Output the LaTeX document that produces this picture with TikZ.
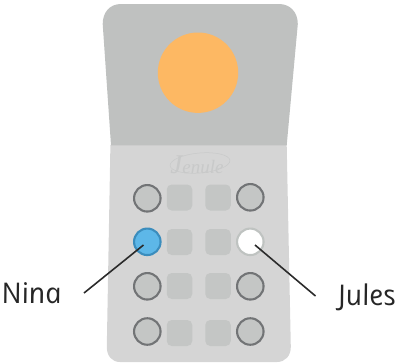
\documentclass[tikz,border=0pt]{standalone}
\usepackage{fontspec}
\setmainfont{Open Sans}[ItalicFeatures={FakeSlant=-0.2}]
\newfontfamily\logofont{Liberation Serif}
\definecolor{upperc}{HTML}{BFC1C0}
\definecolor{lowerc}{HTML}{D5D5D5}
\definecolor{padc}{HTML}{C4C6C5}
\definecolor{logoc}{HTML}{C8C9C9}
\definecolor{ringc}{HTML}{727476}
\definecolor{sunc}{HTML}{FDB863}
\definecolor{bluec}{HTML}{5DB7E8}
\definecolor{bluering}{HTML}{3B8DBD}
\definecolor{whitering}{HTML}{BFC3C1}
\definecolor{linec}{HTML}{2B2B2B}
\tikzset{
  btn/.style={circle,draw=ringc,line width=2.1pt,fill=padc,minimum size=26.5pt,inner sep=0pt},
  pad/.style={rounded corners=5pt,fill=padc,draw=none,minimum width=25.5pt,minimum height=26pt,inner sep=0pt},
  lead/.style={draw=linec,line width=1.6pt},
  lab/.style={font=\itshape\fontsize{28.5}{31}\selectfont,text=black!85,inner sep=0pt,anchor=base west}
}
\begin{document}
\begin{tikzpicture}[x=1pt,y=-1pt]
\useasboundingbox (0,0) rectangle (401,362);
% lower body
\fill[lowerc] (110.4,145) -- (106.8,347) .. controls (106.8,356) and (112,362) .. (120,362)
  -- (277,362) .. controls (285,362) and (290.8,356) .. (290.8,347) -- (286.7,145) -- cycle;
% upper lid
\fill[upperc] (111,145.3) -- (102.7,24) .. controls (102.7,12) and (110,4) .. (121,4)
  -- (279,4) .. controls (290,4) and (297.8,12) .. (297.8,24) -- (286.7,145.3) -- cycle;
\fill[sunc] (198,72.7) circle[radius=40.2];
% logo
\draw[logoc,line width=0.5pt,rotate around={5:(200,163)}] (200,163) ellipse[x radius=30,y radius=10];
\node[text=logoc,inner sep=0pt,font=\logofont\itshape\fontsize{19}{22}\selectfont] (logo) at (197,165) {{\fontsize{27}{22}\selectfont J}enule};
% pads
\foreach \n/\y in {a/197.5,b/242,c/286,d/333}{
  \node[pad] (l\n) at (179.5,\y) {};
  \node[pad] (r\n) at (218,\y) {};
}
% buttons
\node[btn] (b1) at (147.3,198.3) {};
\node[btn] (b2) at (250.3,197.3) {};
\node[btn,draw=bluering,fill=bluec] (nina) at (147.3,241.8) {};
\node[btn,draw=whitering,fill=white] (jules) at (250.3,241.8) {};
\node[btn] (b5) at (147.3,286.3) {};
\node[btn] (b6) at (250.3,286.3) {};
\node[btn] (b7) at (147.3,331.5) {};
\node[btn] (b8) at (250.3,331.5) {};
% labels
\node[lab] (ninal) at (3,303) {Nina};
\node[lab] (julesl) at (339.5,305.5) {Jules};
\coordinate (na) at (84,293);
\coordinate (nb) at (143.5,245);
\coordinate (ja) at (315.5,296);
\coordinate (jb) at (255,245);
\draw[lead] (na) -- (nb);
\draw[lead] (ja) -- (jb);
\end{tikzpicture}
\end{document}
